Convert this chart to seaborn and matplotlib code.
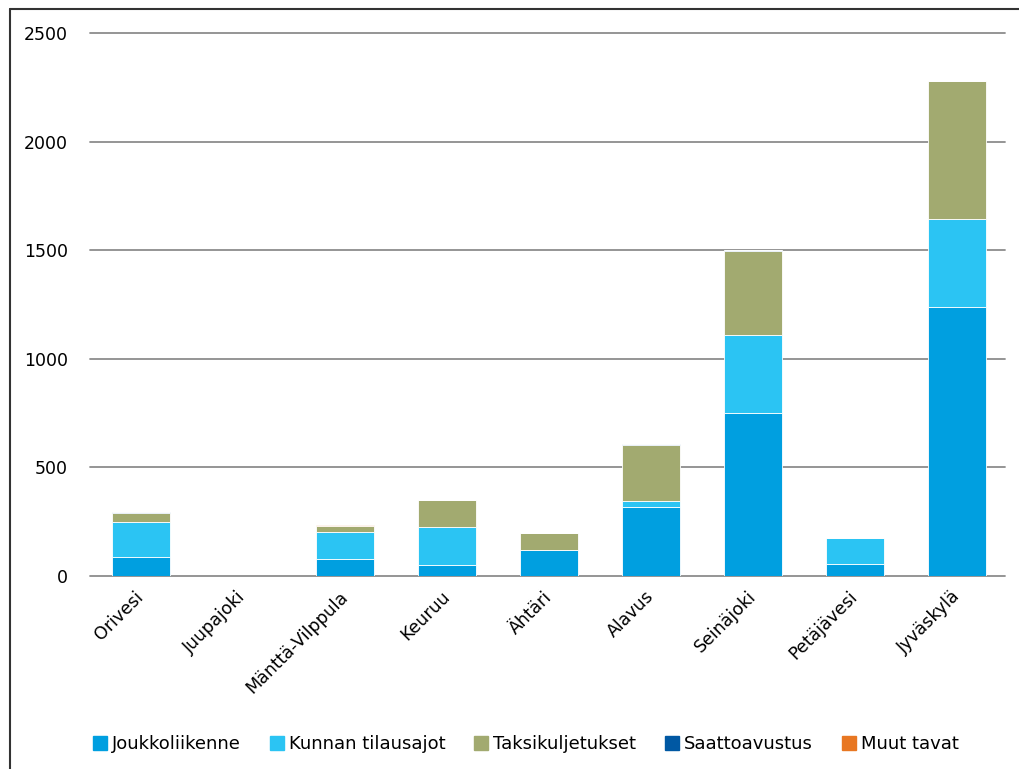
import matplotlib
matplotlib.use("Agg")
import matplotlib.pyplot as plt
from matplotlib.lines import Line2D
import seaborn as sns
import numpy as np
import pandas as pd

cities = ["Orivesi", "Juupajoki", "Mänttä-Vilppula", "Keuruu", "Ähtäri",
          "Alavus", "Seinäjoki", "Petäjävesi", "Jyväskylä"]
joukkoliikenne = [87, 0, 80, 51, 120, 318, 750, 55, 1238]
kunnan_tilausajot = [163, 0, 124, 175, 0, 26, 359, 120, 406]
taksikuljetukset = [40, 0, 28, 123, 80, 258, 387, 0, 635]
saattoavustus = [4, 0, 0, 0, 0, 5, 5, 0, 0]
muut_tavat = [0, 0, 4, 0, 0, 0, 0, 0, 0]

series_names = ["Joukkoliikenne", "Kunnan tilausajot", "Taksikuljetukset",
                "Saattoavustus", "Muut tavat"]
series_values = [joukkoliikenne, kunnan_tilausajot, taksikuljetukset,
                 saattoavustus, muut_tavat]
colors = ["#009FE0", "#2BC4F3", "#A2AA70", "#0058A3", "#E87722"]

sns.set_theme(style="white")
plt.rcParams["font.family"] = ["DejaVu Sans"]
plt.rcParams["text.color"] = "black"

fig = plt.figure(figsize=(10.19, 7.69), dpi=100)
ax = fig.add_axes([90 / 1019, 1 - 576 / 769, (1005 - 90) / 1019, (576 - 33) / 769])

bottom = np.zeros(len(cities))
for name, vals, col in zip(series_names, series_values, colors):
    df = pd.DataFrame({"city": cities, "value": vals})
    sns.barplot(data=df, x="city", y="value", order=cities, color=col,
                width=0.57, bottom=bottom.copy(), ax=ax, saturation=1,
                edgecolor="white", linewidth=0.6, errorbar=None)
    bottom += np.array(vals, dtype=float)

ax.set_ylim(0, 2500)
ax.set_xlim(-0.5, 8.47)
ax.set_yticks([0, 500, 1000, 1500, 2000, 2500])
ax.yaxis.grid(True, color="#8c8c8c", linewidth=1.3)
for gl in ax.get_ygridlines():
    gl.set_clip_on(False)
ax.set_axisbelow(True)
for s in ax.spines.values():
    s.set_visible(False)
ax.set_xlabel("")
ax.set_ylabel("")
ax.tick_params(axis="y", length=0, pad=16, labelsize=12.5, labelcolor="black")
ax.tick_params(axis="x", length=0, pad=13, labelsize=12.5, labelcolor="black")
for lbl in ax.get_xticklabels():
    lbl.set_rotation(45)
    lbl.set_ha("right")
    lbl.set_va("center")
    lbl.set_rotation_mode("anchor")

handles = [Line2D([0], [0], marker="s", linestyle="none", markersize=9.5,
                  markerfacecolor=c, markeredgecolor=c) for c in colors]
fig.legend(handles, series_names, loc="center", bbox_to_anchor=(0.515, 0.032),
           ncol=5, frameon=False, fontsize=13, handletextpad=0.15,
           columnspacing=1.5, handlelength=1.0, labelcolor="black")

# outer frame lines (left and top)
fig.add_artist(Line2D([9.5 / 1019, 9.5 / 1019], [0, 1 - 9 / 769], transform=fig.transFigure,
                      color="#333333", linewidth=1.5))
fig.add_artist(Line2D([9.5 / 1019, 1], [1 - 9 / 769, 1 - 9 / 769], transform=fig.transFigure,
                      color="#333333", linewidth=1.5))

fig.savefig("out.png", dpi=100, facecolor="white")
